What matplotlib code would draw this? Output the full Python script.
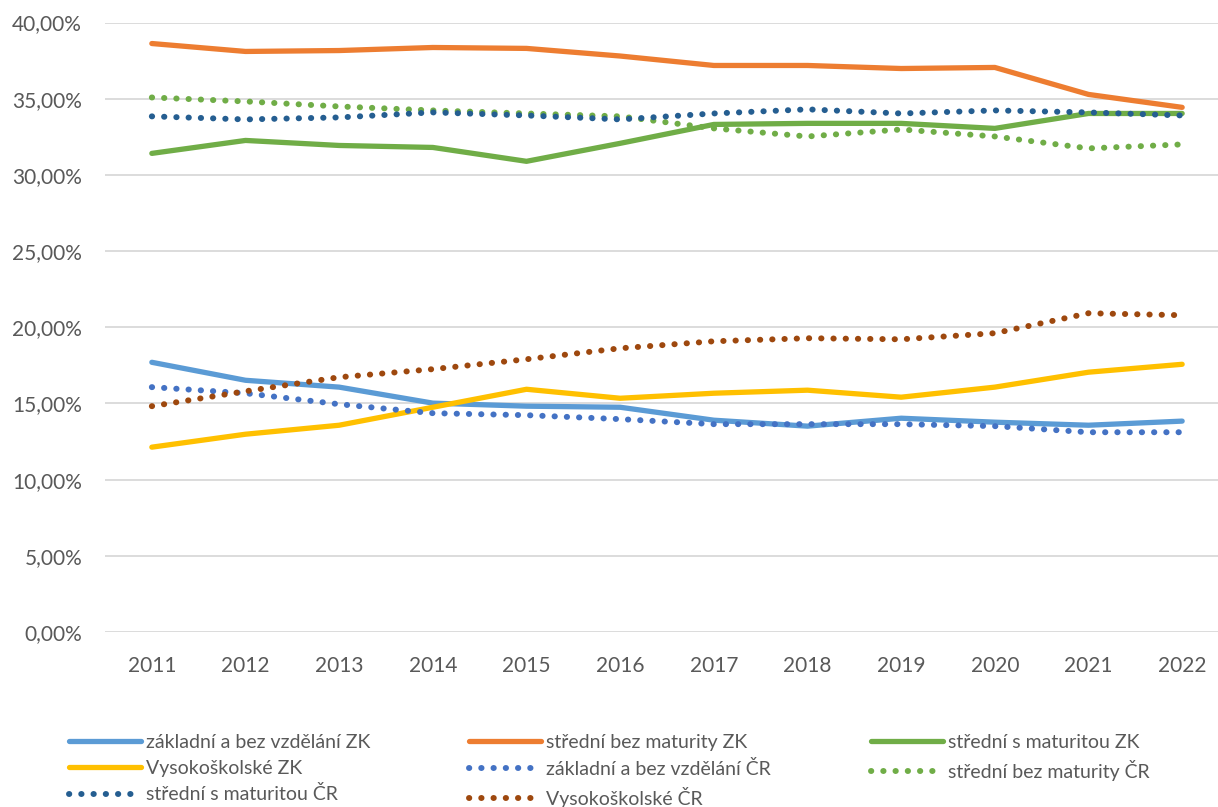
import matplotlib
matplotlib.use("Agg")
import matplotlib.pyplot as plt
from matplotlib.ticker import FuncFormatter, MultipleLocator

years = ["2011", "2012", "2013", "2014", "2015", "2016", "2017", "2018", "2019", "2020", "2021", "2022"]

zakladni_zk = [17.70, 16.52, 16.07, 15.02, 14.82, 14.75, 13.90, 13.51, 14.03, 13.77, 13.57, 13.84]
stredni_bez_zk = [38.62, 38.10, 38.16, 38.36, 38.30, 37.80, 37.18, 37.18, 36.98, 37.05, 35.28, 34.43]
stredni_s_zk = [31.41, 32.26, 31.93, 31.80, 30.89, 32.07, 33.31, 33.38, 33.38, 33.05, 34.03, 34.03]
vysokoskolske_zk = [12.13, 12.98, 13.57, 14.75, 15.93, 15.34, 15.67, 15.87, 15.41, 16.07, 17.05, 17.57]
zakladni_cr = [16.07, 15.67, 14.95, 14.36, 14.23, 13.97, 13.64, 13.64, 13.64, 13.51, 13.11, 13.11]
stredni_bez_cr = [35.08, 34.82, 34.49, 34.23, 34.03, 33.84, 33.05, 32.52, 32.98, 32.52, 31.74, 32.00]
stredni_s_cr = [33.84, 33.64, 33.77, 34.10, 33.90, 33.64, 34.03, 34.30, 34.03, 34.23, 34.10, 33.90]
vysokoskolske_cr = [14.82, 15.80, 16.72, 17.25, 17.90, 18.62, 19.08, 19.28, 19.21, 19.61, 20.92, 20.79]

labels = [
    "základní a bez vzdělání ZK",
    "střední bez maturity ZK",
    "střední s maturitou ZK",
    "Vysokoškolské ZK",
    "základní a bez vzdělání ČR",
    "střední bez maturity ČR",
    "střední s maturitou ČR",
    "Vysokoškolské ČR",
]
series = [zakladni_zk, stredni_bez_zk, stredni_s_zk, vysokoskolske_zk,
          zakladni_cr, stredni_bez_cr, stredni_s_cr, vysokoskolske_cr]
colors = ["#5B9BD5", "#ED7D31", "#70AD47", "#FFC000",
          "#4472C4", "#70AD47", "#255E91", "#9E480E"]
dotted = [False, False, False, False, True, True, True, True]

plt.rcParams['font.family'] = ['Lato', 'DejaVu Sans']
txt = "#595959"

fig = plt.figure(figsize=(12.18, 8.07), dpi=100)
ax = fig.add_axes([105 / 1218, 1 - 632 / 807, (1229 - 105) / 1218, (632 - 22.5) / 807])

x = list(range(len(years)))
handles = []
for s, c, d, lab in zip(series, colors, dotted, labels):
    if d:
        h, = ax.plot(x, s, color=c, lw=4.3, linestyle=(0, (0.05, 2.0)),
                     dash_capstyle='round', solid_capstyle='round', label=lab, zorder=3)
    else:
        h, = ax.plot(x, s, color=c, lw=3.8, solid_capstyle='round',
                     solid_joinstyle='round', label=lab, zorder=3)
    handles.append(h)

ax.set_xlim(-0.5, 11.5)
ax.set_ylim(0, 40)
ax.yaxis.set_major_locator(MultipleLocator(5))
ax.yaxis.set_major_formatter(FuncFormatter(lambda v, p: f"{v:.2f}".replace(".", ",") + "%"))
ax.set_xticks(x)
ax.set_xticklabels(years)
ax.grid(axis='y', color="#D9D9D9", lw=1.3, zorder=0)
for sp in ax.spines.values():
    sp.set_visible(False)
ax.tick_params(axis='both', length=0, labelsize=15, labelcolor=txt)
ax.tick_params(axis='y', pad=16.5)
ax.tick_params(axis='x', pad=17)

cols = [[0, 3, 6], [1, 4, 7], [2, 5]]
xpos = [69, 469, 871]
for ci, idxs in enumerate(cols):
    leg = fig.legend([handles[i] for i in idxs], [labels[i] for i in idxs],
                     loc='upper left', bbox_to_anchor=(xpos[ci] / 1218, 1 - 734 / 807),
                     frameon=False, fontsize=14, handlelength=3.7, handletextpad=0.27,
                     labelspacing=0.45, borderpad=0, borderaxespad=0)
    for t in leg.get_texts():
        t.set_color(txt)

fig.savefig("out.png", dpi=100)
